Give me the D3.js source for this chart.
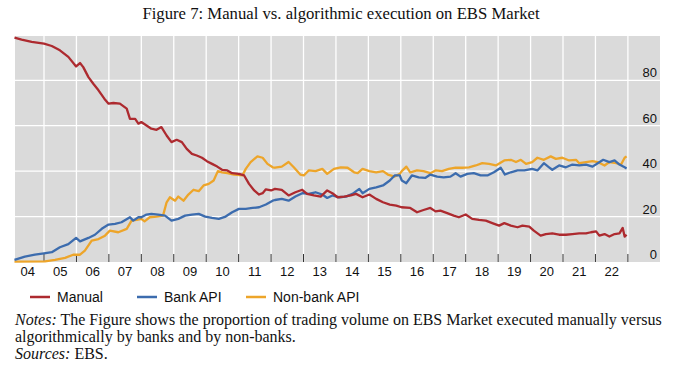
<!DOCTYPE html>
<head>
<meta http-equiv="Content-type" content="text/html;charset=UTF-8">
</head>
<style>
body { margin: 0; background: #fff; }
.serif { font-family: "Liberation Serif", "DejaVu Serif", serif; fill: #111; }
.sans { font-family: "Liberation Sans", Arial, sans-serif; fill: #111; }
</style>
<svg width="677" height="376"></svg>
<script src="https://d3js.org/d3.v7.min.js"></script>
<script>

// values, [decimal year, percent]
var manual = [
  [2004.09,98.8],[2004.31,97.9],[2004.62,96.9],[2005.00,96.1],[2005.24,95.1],[2005.49,93.2],[2005.75,90.3],
  [2005.99,86.1],[2006.11,87.6],[2006.21,85.8],[2006.37,81.4],[2006.52,78.5],[2006.68,75.6],[2006.86,71.9],
  [2006.99,69.7],[2007.14,70],[2007.34,69.7],[2007.55,67.5],[2007.65,63],[2007.81,63],[2007.91,60.9],
  [2008.00,61.6],[2008.16,60.1],[2008.31,58.7],[2008.47,58.2],[2008.62,59.4],[2008.78,55.7],[2008.93,52.8],
  [2009.09,53.8],[2009.25,52.8],[2009.40,49.8],[2009.56,47.6],[2009.71,46.9],[2009.87,45.9],[2010.02,44.4],
  [2010.18,43.2],[2010.34,42],[2010.49,40.6],[2010.65,40.3],[2010.80,39.1],[2011.01,38.8],[2011.17,38.1],
  [2011.32,34.4],[2011.48,31.5],[2011.63,29.7],[2011.74,30.3],[2011.84,32],[2012.00,31.5],[2012.12,32.2],
  [2012.33,31.8],[2012.54,29.3],[2012.75,30.7],[2012.96,31.8],[2013.11,30],[2013.32,29.3],[2013.53,28.8],
  [2013.73,31.5],[2013.89,30.3],[2014.05,28.5],[2014.25,28.8],[2014.46,29.3],[2014.62,30],[2014.82,28.5],
  [2015.03,29.7],[2015.24,27.8],[2015.45,26.3],[2015.66,25.3],[2015.86,24.8],[2016.02,24.1],[2016.29,23.8],
  [2016.50,21.9],[2016.70,22.9],[2016.91,23.8],[2017.07,22.3],[2017.22,22.6],[2017.43,21.5],[2017.63,20.4],
  [2017.79,19.7],[2018.00,20.9],[2018.20,19],[2018.41,18.5],[2018.62,18.2],[2018.82,17.1],[2019.03,16],
  [2019.19,17.1],[2019.39,16],[2019.60,15.3],[2019.75,16],[2019.96,15.6],[2020.10,13.8],[2020.31,11.6],
  [2020.47,12.3],[2020.67,12.6],[2020.88,12],[2021.09,12],[2021.29,12.3],[2021.50,12.6],[2021.71,12.6],
  [2021.86,13.1],[2022.02,13.5],[2022.12,11.6],[2022.28,12.3],[2022.43,11.2],[2022.59,12.3],[2022.74,12.6],
  [2022.84,15],[2022.90,11.2],[2022.96,12]
];

var bankApi = [
  [2004.09,0.9],[2004.41,2.4],[2004.72,3.2],[2005.00,3.8],[2005.24,4.3],[2005.49,6.5],[2005.75,7.9],
  [2005.99,10.6],[2006.11,9.1],[2006.37,10.6],[2006.57,12],[2006.78,14.6],[2006.99,16.5],[2007.19,16.8],
  [2007.39,17.5],[2007.65,19.7],[2007.75,18.2],[2007.91,19.7],[2008.00,19.7],[2008.16,20.9],[2008.31,21.2],
  [2008.52,20.9],[2008.73,20.4],[2008.93,18.2],[2009.14,19],[2009.35,20.4],[2009.56,20.9],[2009.77,21.2],
  [2009.97,20],[2010.18,19.4],[2010.39,19],[2010.60,20],[2010.80,21.9],[2011.01,23.4],[2011.22,23.4],
  [2011.43,23.8],[2011.63,24.1],[2011.84,25.3],[2012.05,27],[2012.12,27.3],[2012.33,27.8],[2012.54,27],
  [2012.75,28.8],[2012.96,30.3],[2013.16,30],[2013.37,30.7],[2013.58,29.7],[2013.73,28.2],[2013.89,29.3],
  [2014.10,28.5],[2014.31,28.8],[2014.51,30],[2014.72,32.2],[2014.82,30.3],[2015.03,32.2],[2015.24,32.9],
  [2015.45,33.7],[2015.66,35.9],[2015.81,38.1],[2015.97,38.1],[2016.03,35.9],[2016.17,34.7],[2016.34,38.1],
  [2016.55,37.3],[2016.75,37],[2016.91,38.5],[2017.12,37.6],[2017.32,37.3],[2017.53,37.6],[2017.69,39.1],
  [2017.84,37.6],[2018.05,38.8],[2018.25,39.1],[2018.46,38.1],[2018.67,38.1],[2018.87,39.5],[2019.08,41.5],
  [2019.21,38.5],[2019.39,39.5],[2019.60,40.3],[2019.81,40.3],[2020.05,41],[2020.21,40.3],[2020.41,43.5],
  [2020.57,41.7],[2020.67,40.6],[2020.88,42.5],[2021.09,41.7],[2021.29,42.9],[2021.50,42.5],[2021.71,42.9],
  [2021.91,42],[2022.07,43.5],[2022.24,45],[2022.43,44],[2022.59,44.7],[2022.74,42.9],[2022.90,41.7],
  [2022.96,41.2]
];

var nonBankApi = [
  [2004.09,0.2],[2005.03,0.3],[2005.34,0.9],[2005.65,1.8],[2005.90,3.2],[2006.11,3.2],[2006.26,5],
  [2006.47,9.4],[2006.68,10.1],[2006.88,11.6],[2007.03,13.8],[2007.29,13.1],[2007.55,14.6],[2007.70,18.2],
  [2007.86,18.5],[2008.00,19],[2008.10,17.9],[2008.26,19.7],[2008.47,20],[2008.67,20.4],[2008.78,26.3],
  [2008.88,28.5],[2009.04,27],[2009.14,28.8],[2009.30,27],[2009.45,29.7],[2009.61,31.8],[2009.77,31.2],
  [2009.92,33.7],[2010.08,34.4],[2010.23,35.9],[2010.36,40],[2010.49,39.5],[2010.65,39.1],[2010.86,38.5],
  [2011.12,38.2],[2011.22,41],[2011.37,44],[2011.58,46.5],[2011.74,45.9],[2011.89,43.2],[2012.05,41.7],
  [2012.12,41.5],[2012.33,42],[2012.54,44],[2012.70,41.7],[2012.90,38.5],[2013.01,38.1],[2013.16,40.3],
  [2013.37,40],[2013.58,41],[2013.73,38.8],[2013.94,41],[2014.15,41.7],[2014.36,41.5],[2014.56,39.5],
  [2014.67,39.1],[2014.82,41],[2015.03,40],[2015.24,39.5],[2015.45,40],[2015.60,38.5],[2015.81,37.6],
  [2015.97,38.8],[2016.03,40],[2016.17,42],[2016.29,39.5],[2016.50,40.3],[2016.70,40],[2016.91,39.1],
  [2017.07,40.3],[2017.27,40],[2017.48,41],[2017.69,41.5],[2017.89,41.5],[2018.10,41.7],[2018.31,42.5],
  [2018.51,43.5],[2018.72,43.2],[2018.93,42.5],[2019.19,44.7],[2019.39,45],[2019.55,44],[2019.70,45],
  [2019.86,43.2],[2020.05,44],[2020.21,45.9],[2020.41,45],[2020.62,46.5],[2020.78,45.4],[2020.98,45.9],
  [2021.19,44.7],[2021.40,45],[2021.50,43.5],[2021.71,44],[2021.91,44.4],[2022.07,44],[2022.28,42.5],
  [2022.43,44],[2022.64,43.5],[2022.79,42.9],[2022.90,45.9],[2022.96,46.5]
];

var yearTicks = d3.range(2005, 2024);
var yearLabels = ["04","05","06","07","08","09","10","11","12","13","14","15","16","17","18","19","20","21","22"];
var yTicks = [0, 20, 40, 60, 80];

var series = [
  {name: "Manual", values: manual, color: "#ad2a2f"},
  {name: "Bank API", values: bankApi, color: "#3c6cae"},
  {name: "Non-bank API", values: nonBankApi, color: "#eda52a"}
];

var svg = d3.select("svg");
var plot = {left: 15, right: 660, top: 36, bottom: 262};

var x = d3.scaleLinear().domain([2004.106, 2023.99]).range([plot.left, plot.right]);
var y = d3.scaleLinear().domain([0, 99.5]).range([plot.bottom, plot.top]);

// title
svg.append("text")
    .attr("class", "serif")
    .attr("x", 341)
    .attr("y", 19)
    .attr("text-anchor", "middle")
    .style("font-size", "16.7px")
    .text("Figure 7: Manual vs. algorithmic execution on EBS Market");

// plot background + grid
svg.append("rect")
    .attr("x", plot.left).attr("y", plot.top)
    .attr("width", plot.right - plot.left).attr("height", plot.bottom - plot.top)
    .attr("fill", "#dadada");

svg.append("g").selectAll("line")
    .data(yTicks.slice(1))
    .enter().append("line")
      .attr("x1", plot.left).attr("x2", plot.right)
      .attr("y1", function(d) { return y(d); })
      .attr("y2", function(d) { return y(d); })
      .attr("stroke", "#fff").attr("stroke-width", 1.3);

svg.append("g").selectAll("line")
    .data(yearTicks)
    .enter().append("line")
      .attr("x1", function(d) { return x(d); })
      .attr("x2", function(d) { return x(d); })
      .attr("y1", plot.top).attr("y2", plot.bottom)
      .attr("stroke", "#fff").attr("stroke-width", 1.3);

// small dark ticks on the bottom edge
svg.append("g").selectAll("line")
    .data(yearTicks)
    .enter().append("line")
      .attr("x1", function(d) { return x(d); })
      .attr("x2", function(d) { return x(d); })
      .attr("y1", plot.bottom - 8).attr("y2", plot.bottom)
      .attr("stroke", "#333").attr("stroke-width", 1);

// lines
var line = d3.line()
    .x(function(d) { return x(d[0]); })
    .y(function(d) { return y(d[1]); });

svg.append("g").selectAll("path")
    .data(series.slice().reverse())
    .enter().append("path")
      .attr("d", function(d) { return line(d.values); })
      .attr("fill", "none")
      .attr("stroke", function(d) { return d.color; })
      .attr("stroke-width", 2.3)
      .attr("stroke-linejoin", "round");

// y labels, right side, sitting above the grid lines
svg.append("g").selectAll("text")
    .data(yTicks)
    .enter().append("text")
      .attr("class", "sans")
      .attr("x", 657)
      .attr("y", function(d) { return y(d) - 3; })
      .attr("text-anchor", "end")
      .style("font-size", "13px")
      .text(function(d) { return d; });

// x labels, centred in each year
svg.append("g").selectAll("text")
    .data(yearLabels)
    .enter().append("text")
      .attr("class", "sans")
      .attr("x", function(d, i) { return x(2004.5 + i); })
      .attr("y", 276)
      .attr("text-anchor", "middle")
      .style("font-size", "13px")
      .text(function(d) { return d; });

// legend
var legendX = [30, 137, 246];
var legend = svg.append("g").selectAll("g")
    .data(series)
    .enter().append("g")
      .attr("transform", function(d, i) { return "translate(" + legendX[i] + ",297)"; });

legend.append("line")
    .attr("x1", 0).attr("x2", 20)
    .attr("stroke", function(d) { return d.color; })
    .attr("stroke-width", 2.5);

legend.append("text")
    .attr("class", "sans")
    .attr("x", 27)
    .attr("y", 5)
    .style("font-size", "14px")
    .text(function(d) { return d.name; });

// notes
var notes = svg.append("g").attr("class", "serif").style("font-size", "16px");
var t1 = notes.append("text").attr("x", 15).attr("y", 325);
t1.append("tspan").style("font-style", "italic").text("Notes:");
t1.append("tspan").text(" The Figure shows the proportion of trading volume on EBS Market executed manually versus");
notes.append("text").attr("x", 15).attr("y", 342)
    .text("algorithmically by banks and by non-banks.");
var t3 = notes.append("text").attr("x", 15).attr("y", 359);
t3.append("tspan").style("font-style", "italic").text("Sources:");
t3.append("tspan").text(" EBS.");

</script>
